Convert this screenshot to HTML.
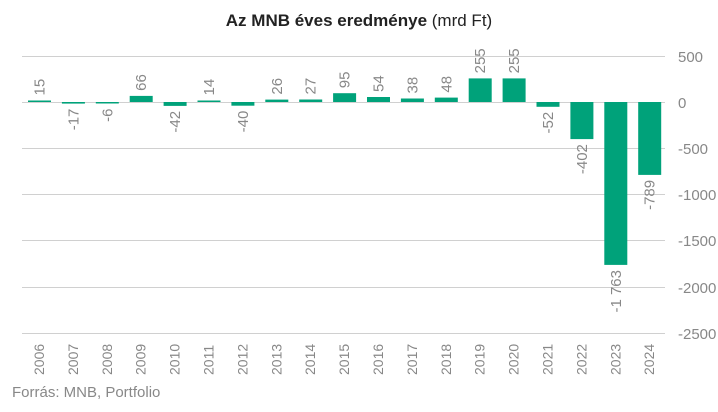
<!DOCTYPE html><html><head><style>body{margin:0;background:#fff}svg{display:block;font-family:"Liberation Sans",sans-serif}</style></head><body>
<svg width="718" height="412" xmlns="http://www.w3.org/2000/svg">
<text x="359" y="26" text-anchor="middle" font-size="17" fill="#222"><tspan font-weight="bold">Az MNB éves eredménye</tspan> (mrd Ft)</text>
<g stroke="#d0d0d0" stroke-width="1">
<line x1="22" x2="665" y1="56.5" y2="56.5"/><line x1="22" x2="665" y1="102.5" y2="102.5"/><line x1="22" x2="665" y1="148.5" y2="148.5"/><line x1="22" x2="665" y1="194.5" y2="194.5"/><line x1="22" x2="665" y1="240.5" y2="240.5"/><line x1="22" x2="665" y1="287.5" y2="287.5"/><line x1="22" x2="665" y1="333.5" y2="333.5"/>
</g>
<g font-size="15" fill="#888">
<text x="678" y="62">500</text><text x="678" y="108">0</text><text x="678" y="154">-500</text><text x="678" y="200">-1000</text><text x="678" y="246">-1500</text><text x="678" y="293">-2000</text><text x="678" y="339">-2500</text>
</g>
<g fill="#00a27a">
<rect x="28" y="100.5" width="23" height="1.5"/>
<rect x="61.9" y="102" width="23" height="1.6"/>
<rect x="95.8" y="102" width="23" height="1.5"/>
<rect x="129.7" y="95.9" width="23" height="6.1"/>
<rect x="163.6" y="102" width="23" height="3.9"/>
<rect x="197.5" y="100.5" width="23" height="1.5"/>
<rect x="231.4" y="102" width="23" height="3.7"/>
<rect x="265.3" y="99.6" width="23" height="2.4"/>
<rect x="299.2" y="99.5" width="23" height="2.5"/>
<rect x="333.1" y="93.2" width="23" height="8.8"/>
<rect x="367" y="97" width="23" height="5"/>
<rect x="400.9" y="98.5" width="23" height="3.5"/>
<rect x="434.8" y="97.6" width="23" height="4.4"/>
<rect x="468.7" y="78.4" width="23" height="23.6"/>
<rect x="502.6" y="78.4" width="23" height="23.6"/>
<rect x="536.5" y="102" width="23" height="4.8"/>
<rect x="570.4" y="102" width="23" height="37.1"/>
<rect x="604.3" y="102" width="23" height="162.9"/>
<rect x="638.2" y="102" width="23" height="72.9"/>
</g>
<g font-size="15" fill="#888">
<text transform="translate(44.5,95.5) rotate(-90)">15</text>
<text text-anchor="end" transform="translate(78.4,108.6) rotate(-90)">-17</text>
<text text-anchor="end" transform="translate(112.3,108.5) rotate(-90)">-6</text>
<text transform="translate(146.2,90.9) rotate(-90)">66</text>
<text text-anchor="end" transform="translate(180.1,110.9) rotate(-90)">-42</text>
<text transform="translate(214,95.5) rotate(-90)">14</text>
<text text-anchor="end" transform="translate(247.9,110.7) rotate(-90)">-40</text>
<text transform="translate(281.8,94.6) rotate(-90)">26</text>
<text transform="translate(315.7,94.5) rotate(-90)">27</text>
<text transform="translate(349.6,88.2) rotate(-90)">95</text>
<text transform="translate(383.5,92) rotate(-90)">54</text>
<text transform="translate(417.4,93.5) rotate(-90)">38</text>
<text transform="translate(451.3,92.6) rotate(-90)">48</text>
<text transform="translate(485.2,73.4) rotate(-90)">255</text>
<text transform="translate(519.1,73.4) rotate(-90)">255</text>
<text text-anchor="end" transform="translate(553,111.8) rotate(-90)">-52</text>
<text text-anchor="end" transform="translate(586.9,144.1) rotate(-90)">-402</text>
<text text-anchor="end" transform="translate(620.8,270) rotate(-90)">-1 763</text>
<text text-anchor="end" transform="translate(654.7,179.9) rotate(-90)">-789</text>
</g>
<g font-size="14" fill="#888">
<text transform="translate(44,375) rotate(-90)">2006</text>
<text transform="translate(77.9,375) rotate(-90)">2007</text>
<text transform="translate(111.8,375) rotate(-90)">2008</text>
<text transform="translate(145.7,375) rotate(-90)">2009</text>
<text transform="translate(179.6,375) rotate(-90)">2010</text>
<text transform="translate(213.5,375) rotate(-90)">2011</text>
<text transform="translate(247.4,375) rotate(-90)">2012</text>
<text transform="translate(281.3,375) rotate(-90)">2013</text>
<text transform="translate(315.2,375) rotate(-90)">2014</text>
<text transform="translate(349.1,375) rotate(-90)">2015</text>
<text transform="translate(383,375) rotate(-90)">2016</text>
<text transform="translate(416.9,375) rotate(-90)">2017</text>
<text transform="translate(450.8,375) rotate(-90)">2018</text>
<text transform="translate(484.7,375) rotate(-90)">2019</text>
<text transform="translate(518.6,375) rotate(-90)">2020</text>
<text transform="translate(552.5,375) rotate(-90)">2021</text>
<text transform="translate(586.4,375) rotate(-90)">2022</text>
<text transform="translate(620.3,375) rotate(-90)">2023</text>
<text transform="translate(654.2,375) rotate(-90)">2024</text>
</g>
<text x="12" y="397" font-size="15" fill="#888">Forrás: MNB, Portfolio</text>
</svg></body></html>
